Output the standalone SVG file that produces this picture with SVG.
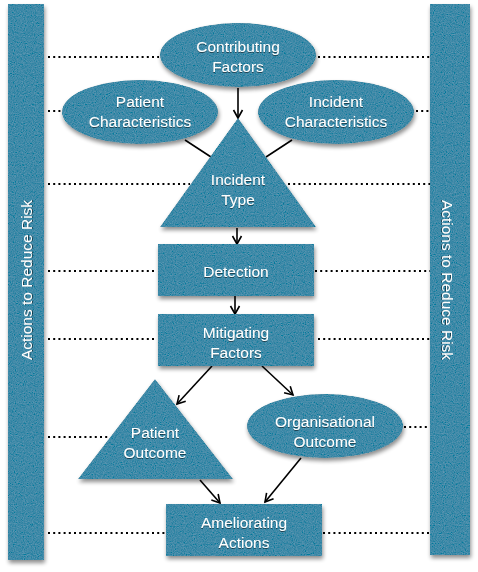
<svg xmlns="http://www.w3.org/2000/svg" width="478" height="572" viewBox="0 0 478 572">
<defs>
<style>
.shape{fill:#408aa8;filter:url(#sh);}
.t{font-family:"Liberation Sans",Arial,sans-serif;font-size:15.5px;fill:#ffffff;text-anchor:middle;filter:url(#ts);}
.dot{stroke:#000;stroke-width:2;stroke-dasharray:2 3.2;fill:none;}
.con{stroke:#000;stroke-width:1.6;fill:none;}
.arr{stroke:#000;stroke-width:1.6;fill:none;marker-end:url(#ah);}
</style>
<filter id="sh" x="-20%" y="-20%" width="140%" height="150%">
<feTurbulence type="fractalNoise" baseFrequency="0.9" numOctaves="2" seed="4" result="noise"/>
<feColorMatrix in="noise" type="matrix" values="0.33 0.33 0.33 0 0  0.33 0.33 0.33 0 0  0.33 0.33 0.33 0 0  0 0 0 0 1" result="gray"/>
<feComposite in="SourceGraphic" in2="gray" operator="arithmetic" k1="0" k2="1" k3="0.3" k4="-0.15" result="tex"/>
<feComposite in="tex" in2="SourceGraphic" operator="in" result="texc"/>
<feGaussianBlur in="SourceAlpha" stdDeviation="2"/>
<feOffset dx="1" dy="3"/>
<feComponentTransfer result="shadow"><feFuncA type="linear" slope="0.45"/></feComponentTransfer>
<feMerge><feMergeNode in="shadow"/><feMergeNode in="texc"/></feMerge>
</filter>
<filter id="ts" x="-10%" y="-30%" width="120%" height="160%">
<feGaussianBlur in="SourceAlpha" stdDeviation="0.6"/>
<feOffset dx="0" dy="1"/>
<feComponentTransfer><feFuncA type="linear" slope="0.5"/></feComponentTransfer>
<feMerge><feMergeNode/><feMergeNode in="SourceGraphic"/></feMerge>
</filter>
<marker id="ah" markerWidth="12" markerHeight="12" refX="9" refY="5" orient="auto" markerUnits="userSpaceOnUse" viewBox="0 0 12 10">
<path d="M1,0.5 L9,5 L1,9.5" stroke="#000" stroke-width="1.6" fill="none"/>
</marker>
</defs>
<rect width="478" height="572" fill="#ffffff"/>

<g id="connectors">
<line class="dot" x1="48" y1="57" x2="159" y2="57"/>
<line class="dot" x1="318" y1="57" x2="430" y2="57"/>
<line class="dot" x1="48" y1="111" x2="62" y2="111"/>
<line class="dot" x1="416" y1="111" x2="430" y2="111"/>
<line class="dot" x1="48" y1="184" x2="190" y2="184"/>
<line class="dot" x1="288" y1="184" x2="430" y2="184"/>
<line class="dot" x1="48" y1="271" x2="157" y2="271"/>
<line class="dot" x1="315" y1="271" x2="430" y2="271"/>
<line class="dot" x1="48" y1="339" x2="157" y2="339"/>
<line class="dot" x1="318" y1="339" x2="430" y2="339"/>
<line class="dot" x1="48" y1="437" x2="108" y2="437"/>
<line class="dot" x1="404" y1="427" x2="430" y2="427"/>
<line class="dot" x1="48" y1="533" x2="165" y2="533"/>
<line class="dot" x1="323" y1="533" x2="430" y2="533"/>
<line class="arr" x1="238" y1="88" x2="238" y2="118"/>
<line class="con" x1="185" y1="140" x2="211" y2="157"/>
<line class="con" x1="292" y1="140" x2="266" y2="157"/>
<line class="arr" x1="237" y1="228" x2="237" y2="244"/>
<line class="arr" x1="235" y1="296" x2="235" y2="314"/>
<line class="arr" x1="212" y1="366" x2="177" y2="404"/>
<line class="arr" x1="262" y1="366" x2="293" y2="395"/>
<line class="arr" x1="200" y1="480" x2="220" y2="503"/>
<line class="arr" x1="301" y1="458" x2="265" y2="502"/>
</g>

<g id="left-bar">
<rect class="shape" x="8" y="4" width="36" height="556"/>
<text class="t" transform="translate(32,280) rotate(-90)">Actions to Reduce Risk</text>
</g>
<g id="right-bar">
<rect class="shape" x="430" y="4" width="40" height="551"/>
<text class="t" transform="translate(442,280) rotate(90)">Actions to Reduce Risk</text>
</g>

<g id="contributing-factors">
<ellipse class="shape" cx="238" cy="55" rx="78" ry="32"/>
<text class="t" x="238" y="52">Contributing</text>
<text class="t" x="238" y="72">Factors</text>
</g>
<g id="patient-characteristics">
<ellipse class="shape" cx="140" cy="112" rx="78" ry="32"/>
<text class="t" x="140" y="107">Patient</text>
<text class="t" x="140" y="127">Characteristics</text>
</g>
<g id="incident-characteristics">
<ellipse class="shape" cx="336" cy="112" rx="78" ry="32"/>
<text class="t" x="336" y="107">Incident</text>
<text class="t" x="336" y="127">Characteristics</text>
</g>
<g id="incident-type">
<polygon class="shape" points="238,118 160,227 316,227"/>
<text class="t" x="238" y="185">Incident</text>
<text class="t" x="238" y="205">Type</text>
</g>
<g id="detection">
<rect class="shape" x="158" y="244" width="156" height="52"/>
<text class="t" x="236" y="277">Detection</text>
</g>
<g id="mitigating-factors">
<rect class="shape" x="158" y="314" width="156" height="52"/>
<text class="t" x="236" y="338">Mitigating</text>
<text class="t" x="236" y="358">Factors</text>
</g>
<g id="patient-outcome">
<polygon class="shape" points="155,379 78,479 233,479"/>
<text class="t" x="155" y="438">Patient</text>
<text class="t" x="155" y="458">Outcome</text>
</g>
<g id="organisational-outcome">
<ellipse class="shape" cx="325" cy="426" rx="78" ry="32"/>
<text class="t" x="325" y="427">Organisational</text>
<text class="t" x="325" y="447">Outcome</text>
</g>
<g id="ameliorating-actions">
<rect class="shape" x="166" y="504" width="156" height="52"/>
<text class="t" x="244" y="528">Ameliorating</text>
<text class="t" x="244" y="548">Actions</text>
</g>
</svg>
